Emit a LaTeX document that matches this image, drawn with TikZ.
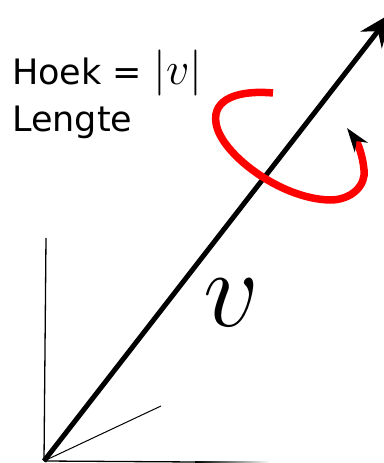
\documentclass[tikz,border=0pt]{standalone}
\usepackage{fix-cm}
\usepackage{fontspec}
\setmainfont{DejaVu Sans}
\usetikzlibrary{arrows.meta}

\begin{document}
\begin{tikzpicture}[x=1pt, y=1pt,
    axis/.style={line width=1.3pt},
    vec/.style={line width=5pt, -{Stealth[length=34pt, width=27pt]}},
    twist/.style={red, line width=7.5pt, -{Stealth[black, length=24pt, width=16pt]}},
    txt/.style={inner sep=0pt, anchor=base west, font=\fontsize{35}{47}\selectfont}]
  \useasboundingbox (0,0) rectangle (383,463);

  % axes
  \coordinate (o) at (44,2);
  \coordinate (yend) at (46,225);
  \coordinate (xend) at (195,1);
  \coordinate (thirdend) at (161,57);
  \coordinate (tip) at (392,450);
  \draw[axis] (o) -- (yend);
  \draw[axis] (o) -- (xend);
  \shade[left color=black, right color=white] (195,0.35) rectangle (270,1.65);
  \draw[line width=1pt] (o) -- (thirdend);

  % the vector
  \draw[vec] (o) -- (tip);
  \node[font=\fontsize{110}{110}\selectfont] (vlab) at (232,160) {$v$};

  % rotation about the vector
  \coordinate (tstart) at (273,370);
  \coordinate (tleft) at (216,340);
  \coordinate (tlow) at (330,263);
  \coordinate (tright) at (364,293);
  \coordinate (tend) at (347,335);
  \draw[twist] (tstart) .. controls (240,373) and (212,365) .. (tleft)
    .. controls (220,310) and (280,264) .. (tlow)
    .. controls (352,263) and (366,278) .. (tright)
    .. controls (363,306) and (358,320) .. (tend);

  % labels
  \node[txt] (hoek) at (12,378) {Hoek = {\fontsize{46}{46}\selectfont$|v|$}};
  \node[txt] (lengte) at ([yshift=-47pt]hoek.base west) {Lengte};
\end{tikzpicture}
\end{document}
